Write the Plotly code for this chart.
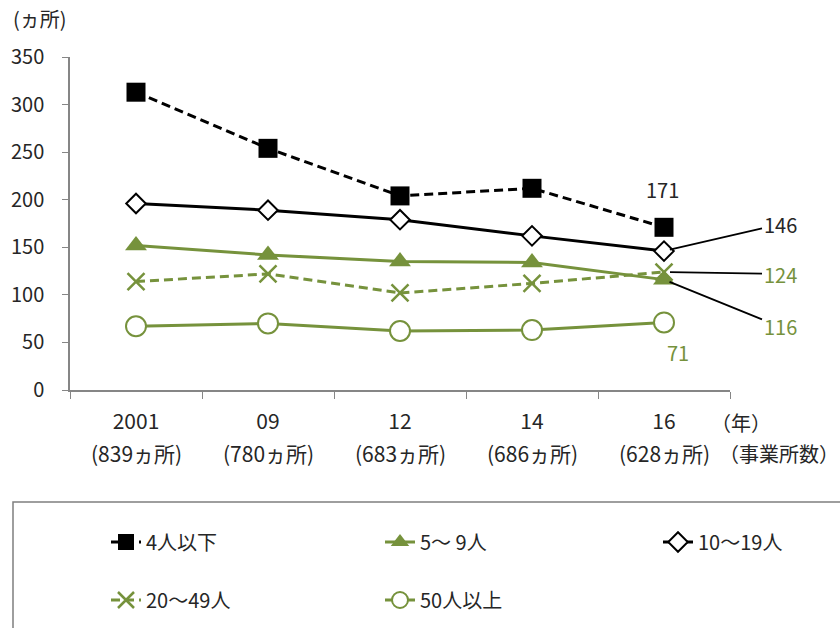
import plotly.graph_objects as go

# Survey years and establishment counts (x-axis labels)
years = ["2001", "09", "12", "14", "16"]
establishments = ["839", "780", "683", "686", "628"]

# Number of establishments by workforce size
size_4_or_less = [313, 254, 204, 212, 171]
size_5_9 = [152, 142, 135, 134, 116]
size_10_19 = [196, 189, 179, 162, 146]
size_20_49 = [114, 122, 102, 112, 124]
size_50_plus = [67, 70, 62, 63, 71]

series_names = ["4人以下", "5～ 9人", "10～19人", "20～49人", "50人以上"]

GREEN = "#76923C"
BLACK = "#000000"
TEXT = "#262626"
FONT = "Noto Sans CJK JP"

W, H = 840, 628
ML, MR, MT, MB = 70, 110, 57, 238
PW, PH = W - ML - MR, H - MT - MB


def px_x(px):
    return (px - ML) / PW


def px_y(py):
    return (H - MB - py) / PH


fig = go.Figure()

fig.add_trace(go.Scatter(
    x=years, y=size_4_or_less, name=series_names[0], mode="lines+markers",
    line=dict(color=BLACK, width=3, dash="9px,5px"),
    marker=dict(symbol="square", size=19, color=BLACK),
    legend="legend"))
fig.add_trace(go.Scatter(
    x=years, y=size_5_9, name=series_names[1], mode="lines+markers",
    line=dict(color=GREEN, width=3),
    marker=dict(symbol="triangle-up", size=19, color=GREEN),
    legend="legend2"))
fig.add_trace(go.Scatter(
    x=years, y=size_10_19, name=series_names[2], mode="lines+markers",
    line=dict(color=BLACK, width=3),
    marker=dict(symbol="diamond", size=15, color="white",
                line=dict(color=BLACK, width=2)),
    legend="legend3"))
fig.add_trace(go.Scatter(
    x=years, y=size_20_49, name=series_names[3], mode="lines+markers",
    line=dict(color=GREEN, width=3, dash="9px,5px"),
    marker=dict(symbol="x-thin", size=17, color=GREEN,
                line=dict(color=GREEN, width=2.5)),
    legend="legend4"))
fig.add_trace(go.Scatter(
    x=years, y=size_50_plus, name=series_names[4], mode="lines+markers",
    line=dict(color=GREEN, width=3),
    marker=dict(symbol="circle", size=20, color="white",
                line=dict(color=GREEN, width=2)),
    legend="legend5"))

# category axes place annotations by category index
last = len(years) - 1
annotations = [
    # value labels for the latest year
    dict(x=last, y=size_4_or_less[last], text=str(size_4_or_less[last]),
         showarrow=False, yshift=38, xshift=-2, font=dict(color=TEXT, size=20)),
    dict(x=last, y=size_10_19[last], text=str(size_10_19[last]),
         showarrow=True, arrowhead=0, arrowwidth=1.8, arrowcolor=BLACK,
         ax=116, ay=-27, standoff=6, font=dict(color=TEXT, size=20)),
    dict(x=last, y=size_20_49[last], text=str(size_20_49[last]),
         showarrow=True, arrowhead=0, arrowwidth=1.8, arrowcolor=BLACK,
         ax=116, ay=2, standoff=6, font=dict(color=GREEN, size=20)),
    dict(x=last, y=size_5_9[last], text=str(size_5_9[last]),
         showarrow=True, arrowhead=0, arrowwidth=1.8, arrowcolor=BLACK,
         ax=116, ay=47, standoff=6, font=dict(color=GREEN, size=20)),
    dict(x=last, y=size_50_plus[last], text=str(size_50_plus[last]),
         showarrow=False, yshift=-30, xshift=14, font=dict(color=GREEN, size=20)),
    # axis unit labels
    dict(xref="paper", yref="paper", x=px_x(40), y=px_y(18), text="(ヵ所)",
         xanchor="center", yanchor="middle", showarrow=False,
         font=dict(color=TEXT, size=20)),
    dict(xref="paper", yref="paper", x=px_x(741), y=px_y(422), text="（年）",
         xanchor="center", yanchor="middle", showarrow=False,
         font=dict(color=TEXT, size=20)),
    dict(xref="paper", yref="paper", x=px_x(779), y=px_y(453), text="（事業所数）",
         xanchor="center", yanchor="middle", showarrow=False,
         font=dict(color=TEXT, size=20)),
]

# second line of the category labels: number of establishments surveyed
for i, n in enumerate(establishments):
    annotations.append(dict(
        x=i, xref="x", yref="paper", y=px_y(453), text=f"({n}ヵ所)",
        xanchor="center", yanchor="middle", showarrow=False,
        font=dict(color=TEXT, size=21)))


def legend_at(px_left, py_mid):
    return dict(orientation="h", x=px_x(px_left), y=px_y(py_mid), xanchor="left",
                yanchor="middle", bgcolor="rgba(0,0,0,0)",
                font=dict(size=20, color=TEXT))


fig.update_layout(
    width=W, height=H,
    margin=dict(l=ML, r=MR, t=MT, b=MB, autoexpand=False),
    paper_bgcolor="white", plot_bgcolor="white",
    font=dict(family=FONT, size=20, color=TEXT),
    annotations=annotations,
    shapes=[dict(type="rect", xref="paper", yref="paper",
                 x0=px_x(13), x1=px_x(860), y0=px_y(502), y1=px_y(650),
                 line=dict(color="#7F7F7F", width=1.5), fillcolor="rgba(0,0,0,0)")],
    legend=legend_at(106, 542),
    legend2=legend_at(380, 542),
    legend3=legend_at(658, 542),
    legend4=legend_at(106, 600),
    legend5=legend_at(380, 600),
    showlegend=True,
)

fig.update_xaxes(
    type="category", range=[-0.5, 4.5], showline=True, linecolor="#868686",
    linewidth=1.5, ticks="outside", tickson="boundaries", ticklen=7,
    tickcolor="#868686", showgrid=False, zeroline=False, automargin=False,
    tickfont=dict(size=21, color=TEXT), ticklabelstandoff=12,
)
fig.update_yaxes(
    range=[0, 350], dtick=50, showline=True, linecolor="#868686", linewidth=1.5,
    ticks="outside", ticklen=6, tickcolor="#868686", showgrid=False,
    zeroline=False, automargin=False, tickfont=dict(size=20, color=TEXT),
    ticklabelstandoff=14,
)

fig.write_html("out.html")
